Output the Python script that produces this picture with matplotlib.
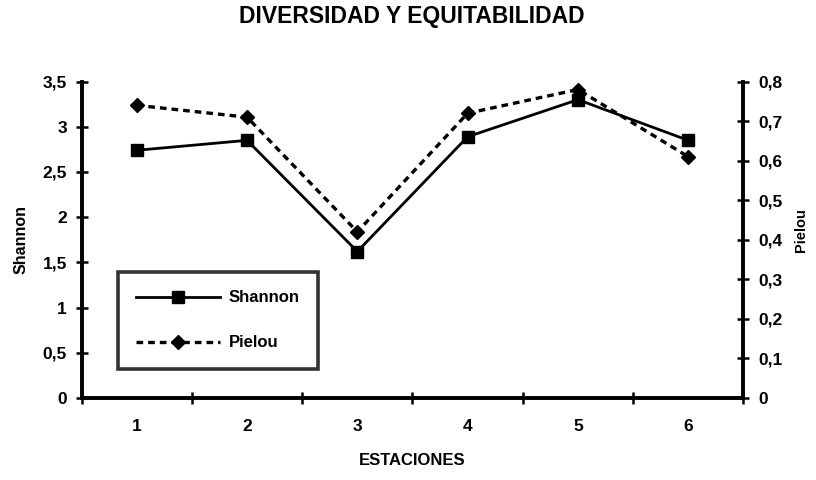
import matplotlib
matplotlib.use("Agg")
import matplotlib.pyplot as plt
from matplotlib.ticker import FixedLocator, NullFormatter

# Data
estaciones = [1, 2, 3, 4, 5, 6]
shannon = [2.74, 2.85, 1.62, 2.89, 3.30, 2.85]
pielou = [0.74, 0.71, 0.42, 0.72, 0.78, 0.61]
shannon_ticks = [0, 0.5, 1, 1.5, 2, 2.5, 3, 3.5]
pielou_ticks = [0, 0.1, 0.2, 0.3, 0.4, 0.5, 0.6, 0.7, 0.8]

plt.rcParams['font.family'] = ['Liberation Sans', 'DejaVu Sans']
plt.rcParams['font.weight'] = 'bold'


def coma(v):
    # spanish decimal comma
    return ('%g' % v).replace('.', ',')


fig = plt.figure(figsize=(8.16, 4.8), dpi=100)
ax = fig.add_axes([0.100, 0.171, 0.811, 0.659])
ax2 = ax.twinx()

l1, = ax.plot(estaciones, shannon, color='black', lw=2.0, marker='s',
              markersize=8, label='Shannon')
l2, = ax2.plot(estaciones, pielou, color='black', lw=2.4, ls=(0, (2.0, 1.5)),
               marker='D', markersize=7, label='Pielou')

ax.set_xlim(0.5, 6.5)
ax.set_ylim(0, 3.5)
ax2.set_ylim(0, 0.8)

# x ticks: marks on the category boundaries, labels at the centres
ax.xaxis.set_major_locator(FixedLocator([x + 0.5 for x in range(0, 7)]))
ax.xaxis.set_major_formatter(NullFormatter())
ax.xaxis.set_minor_locator(FixedLocator(estaciones))
ax.set_xticklabels([str(e) for e in estaciones], minor=True)
ax.tick_params(axis='x', which='major', direction='inout', length=9, width=1.8)
ax.tick_params(axis='x', which='minor', length=0, pad=15, labelsize=12.5)

ax.set_yticks(shannon_ticks)
ax.set_yticklabels([coma(v) for v in shannon_ticks])
ax2.set_yticks(pielou_ticks)
ax2.set_yticklabels([coma(v) for v in pielou_ticks])
ax.tick_params(axis='y', direction='inout', length=9, width=1.8, labelsize=12.5, pad=6)
ax2.tick_params(axis='y', direction='inout', length=9, width=1.8, labelsize=12.5, pad=6)

for a in (ax, ax2):
    a.spines['top'].set_visible(False)
    for s in ('left', 'right', 'bottom'):
        a.spines[s].set_linewidth(2.6)

ax.set_xlabel('ESTACIONES', fontsize=12, fontweight='bold', labelpad=14)
ax.set_ylabel('Shannon', fontsize=11.5, fontweight='bold', labelpad=10)
ax2.set_ylabel('Pielou', fontsize=10.5, fontweight='bold', rotation=90,
               va='center')
ax2.yaxis.set_label_coords(1.087, 0.53)

fig.text(0.505, 0.965, 'DIVERSIDAD Y EQUITABILIDAD', ha='center', va='center',
         fontsize=16.5, fontweight='heavy')

leg = ax.legend(handles=[l1, l2], loc='upper left',
                bbox_to_anchor=(0.055, 0.398), borderaxespad=0, fontsize=12,
                frameon=True, fancybox=False, edgecolor='black',
                handlelength=5.0, labelspacing=1.8, borderpad=1.1,
                handletextpad=0.55)
leg.get_frame().set_linewidth(2.6)

fig.savefig('out.png', dpi=100)
